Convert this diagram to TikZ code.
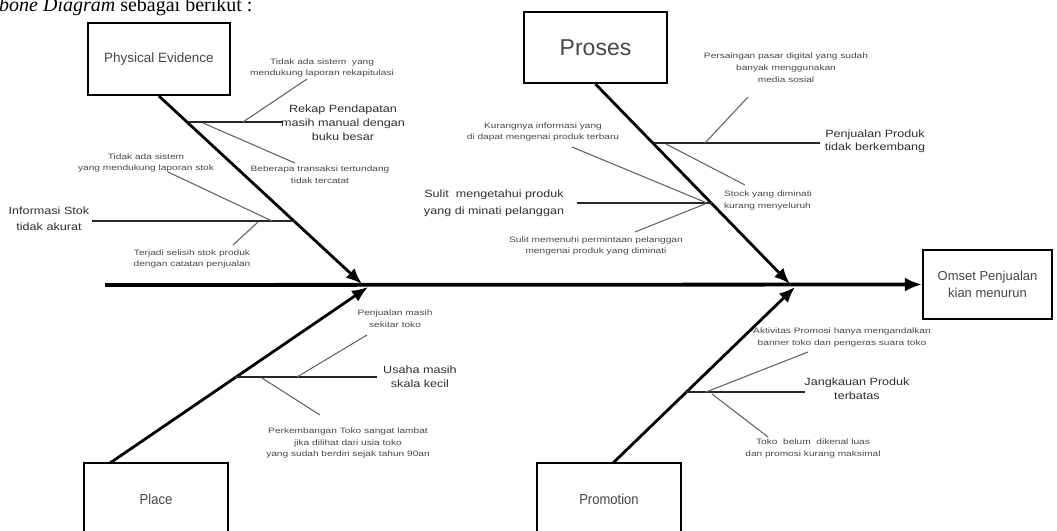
\documentclass[tikz,border=0pt]{standalone}
\usepackage{fontspec}
\setmainfont{Liberation Sans}
\newfontfamily\serifhead{Liberation Serif}
\newfontfamily\widesans[FakeStretch=1.3]{Liberation Sans}
\newfontfamily\midsans[FakeStretch=1.2]{Liberation Sans}
\newfontfamily\narrowsans[FakeStretch=0.9]{Liberation Sans}
\usetikzlibrary{arrows.meta}
\begin{document}
\begin{tikzpicture}[x=1pt,y=-1pt,
  box/.style={draw=black,line width=2.2pt,fill=white,inner sep=0pt,text=black!72,align=center},
  spine/.style={line width=3.8pt,-{Latex[length=17pt,width=14pt]}},
  bone/.style={line width=2.8pt,-{Latex[length=16pt,width=13pt]}},
  rib/.style={line width=2.3pt,draw=black!85},
  twig/.style={line width=1.1pt,draw=black!60},
  small/.style={font=\widesans\fontsize{7.8}{11.8}\selectfont,text=black!72,align=center,inner sep=0pt},
  big/.style={font=\midsans\fontsize{10.5}{14}\selectfont,text=black!82,align=center,inner sep=0pt},
]
\useasboundingbox (0,0) rectangle (1057,530);

% heading fragment
\node[anchor=base west,inner sep=0pt,font=\serifhead\fontsize{20}{20}\selectfont] (head) at (-1,12) {\textit{bone Diagram} sebagai berikut :};

% category boxes
\node[box,minimum width=142pt,minimum height=72pt,font=\fontsize{13.5}{16}\selectfont] (pe) at (159,59) {Physical Evidence};
\node[box,minimum width=143pt,minimum height=71pt,font=\fontsize{23}{26}\selectfont] (ps) at (595.5,47.5) {Proses};
\node[box,minimum width=144pt,minimum height=72pt,font=\narrowsans\fontsize{14.5}{16}\selectfont] (pl) at (156,499) {Place};
\node[box,minimum width=144pt,minimum height=72pt,font=\narrowsans\fontsize{14.5}{16}\selectfont] (pm) at (609,499) {Promotion};
\node[box,minimum width=129pt,minimum height=69pt,font=\fontsize{13}{17}\selectfont] (om) at (987.5,284.5) {Omset Penjualan\\kian menurun};

% spine and bones
\coordinate (tail) at (105,285);
\coordinate (j1) at (362,284);
\coordinate (j2) at (368,287);
\coordinate (j3) at (790,284);
\coordinate (j4) at (795,287);
\coordinate (pltop) at (110,463);
\coordinate (pmtop) at (613,463);
\draw[spine] (tail) -- (om.west);
\draw[bone] (pe.south) -- (j1);
\draw[bone] (pltop) -- (j2);
\draw[bone] (ps.south) -- (j3);
\draw[bone] (pmtop) -- (j4);

% labels
\node[small] (t1) at (322,68) {Tidak ada sistem\ \ yang\\mendukung laporan rekapitulasi};
\node[big] (l1) at (343,123) {Rekap Pendapatan\\masih manual dengan\\buku besar};
\node[small] (t2) at (320,175) {Beberapa transaksi tertundang\\tidak tercatat};
\node[small] (t3) at (146,163) {Tidak ada sistem\\yang mendukung laporan stok};
\node[big,font=\midsans\fontsize{10.5}{15.5}\selectfont] (l2) at (49,218.5) {Informasi Stok\\tidak akurat};
\node[small] (t4) at (192,259) {Terjadi selisih stok produk\\dengan catatan penjualan};

\node[small] (t5) at (786,68) {Persaingan pasar digital yang sudah\\banyak menggunakan\\media sosial};
\node[big,font=\midsans\fontsize{10.5}{13.5}\selectfont] (l3) at (875,141.5) {Penjualan Produk\\tidak berkembang};
\node[small,align=left] (t6) at (768,200.5) {Stock yang diminati\\kurang menyeluruh};
\node[small] (t7) at (543,132) {Kurangnya informasi yang\\di dapat mengenai produk terbaru};
\node[big,font=\midsans\fontsize{10.5}{16.5}\selectfont] (l4) at (494,203.5) {Sulit\ \ mengetahui produk\\yang di minati pelanggan};
\node[small] (t8) at (596,246) {Sulit memenuhi permintaan pelanggan\\mengenai produk yang diminati};

\node[small] (t9) at (395,319) {Penjualan masih\\sekitar toko};
\node[big] (l5) at (420,377) {Usaha masih\\skala kecil};
\node[small] (t10) at (348,443) {Perkembangan Toko sangat lambat\\jika dilihat dari usia toko\\yang sudah berdiri sejak tahun 90an};

\node[small] (t11) at (842,337.5) {Aktivitas Promosi hanya mengandalkan\\banner toko dan pengeras suara toko};
\node[big] (l6) at (857,389) {Jangkauan Produk\\terbatas};
\node[small] (t12) at (813,448.5) {Toko\ \ belum\ \ dikenal luas\\dan promosi kurang maksimal};

% ribs
\coordinate (r1a) at (188,122);  \coordinate (r1b) at (282,122);
\coordinate (r2a) at (295,221);  \coordinate (r2b) at (92,221);
\coordinate (r3a) at (654,143);  \coordinate (r3b) at (820,143);
\coordinate (r4a) at (712,203);  \coordinate (r4b) at (577,203);
\coordinate (r5a) at (235,377);  \coordinate (r5b) at (377,377);
\coordinate (r6a) at (685,392);  \coordinate (r6b) at (805,392);
\draw[rib] (r1a) -- (r1b);
\draw[rib] (r2a) -- (r2b);
\draw[rib] (r3a) -- (r3b);
\draw[rib] (r4a) -- (r4b);
\draw[rib] (r5a) -- (r5b);
\draw[rib] (r6a) -- (r6b);

% twigs
\coordinate (w1a) at (243,122);  \coordinate (w1b) at (307,79);
\coordinate (w2a) at (203,123);  \coordinate (w2b) at (295,163);
\coordinate (w3a) at (272,221);  \coordinate (w3b) at (168,172);
\coordinate (w4a) at (258,222);  \coordinate (w4b) at (233,245);
\coordinate (w5a) at (705,143);  \coordinate (w5b) at (748,97);
\coordinate (w6a) at (666,144);  \coordinate (w6b) at (745,185);
\coordinate (w7a) at (707,203);  \coordinate (w7b) at (572,147);
\coordinate (w8a) at (705,204);  \coordinate (w8b) at (635,232);
\coordinate (w9a) at (297,377);  \coordinate (w9b) at (367,335);
\coordinate (w10a) at (262,378); \coordinate (w10b) at (320,415);
\coordinate (w11a) at (706,392); \coordinate (w11b) at (808,352);
\coordinate (w12a) at (712,394); \coordinate (w12b) at (768,437);
\foreach \i in {1,...,12} {\draw[twig] (w\i a) -- (w\i b);}
\end{tikzpicture}
\end{document}
